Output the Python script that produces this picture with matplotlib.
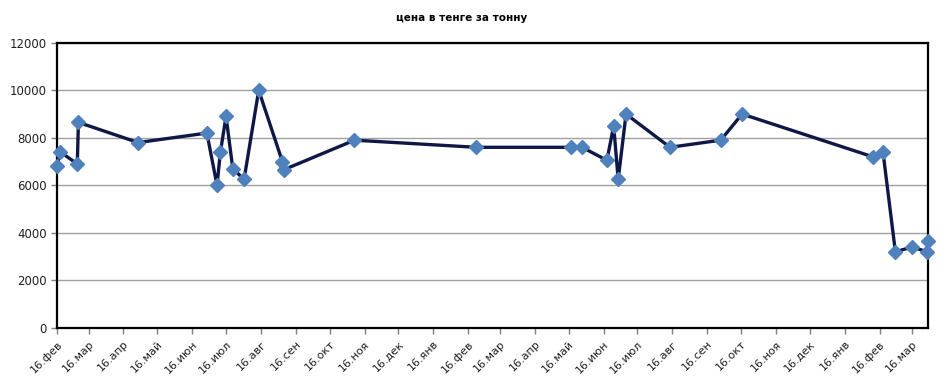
import datetime as dt

import matplotlib
matplotlib.use("Agg")
import matplotlib.pyplot as plt
import matplotlib.dates as mdates

# price observations (date, tenge per tonne)
dates = [
    "2010-02-16", "2010-02-19", "2010-03-06", "2010-03-07", "2010-04-29",
    "2010-06-29", "2010-07-08", "2010-07-11", "2010-07-16", "2010-07-22",
    "2010-08-01", "2010-08-14", "2010-09-04", "2010-09-05", "2010-11-07",
    "2011-02-23", "2011-05-18", "2011-05-28", "2011-06-19", "2011-06-25",
    "2011-06-29", "2011-07-06", "2011-08-14", "2011-09-28", "2011-10-17",
    "2012-02-10", "2012-02-19", "2012-03-01", "2012-03-16", "2012-03-29",
    "2012-03-30",
]
prices = [
    6800, 7400, 6900, 8650, 7800,
    8200, 6000, 7400, 8900, 6700,
    6250, 10000, 7000, 6650, 7900,
    7600, 7600, 7600, 7050, 8500,
    6250, 9000, 7600, 7900, 9000,
    7200, 7400, 3200, 3400, 3200,
    3650,
]
month_names = ["янв", "фев", "мар", "апр", "май", "июн",
               "июл", "авг", "сен", "окт", "ноя", "дек"]
title = "цена в тенге за тонну"


def main():
    x = [dt.datetime.strptime(d, "%Y-%m-%d") for d in dates]

    fig = plt.figure(figsize=(9.47, 3.86), dpi=100)
    ax = fig.add_axes([0.0602, 0.151, 0.9198, 0.738])

    ax.plot(x, prices, color="#0f1747", linewidth=2.4, zorder=3)
    ax.plot(x, prices, linestyle="none", marker="D", markersize=7.5,
            markerfacecolor="#4f81bd", markeredgecolor="#4f81bd",
            zorder=4, clip_on=False)

    ax.set_xlim(x[0], x[-1])
    ax.set_ylim(0, 12000)
    ax.set_yticks(range(0, 12001, 2000))
    ax.yaxis.grid(True, color="#a0a0a0", linewidth=1)
    ax.set_axisbelow(True)

    ax.xaxis.set_major_locator(mdates.MonthLocator(bymonthday=16))
    ax.xaxis.set_major_formatter(
        plt.FuncFormatter(lambda v, pos: "16." + month_names[mdates.num2date(v).month - 1]))
    plt.setp(ax.get_xticklabels(), rotation=45, ha="right", rotation_mode="anchor")

    ax.tick_params(axis="both", length=4, width=1, color="#808080",
                   labelcolor="#202020")
    ax.tick_params(axis="x", labelsize=8, pad=4)
    ax.tick_params(axis="y", labelsize=8.5)
    for side in ax.spines.values():
        side.set_color("black")
        side.set_linewidth(1.6)

    fig.text(0.487, 0.953, title, ha="center", va="center",
             fontsize=7.5, fontweight="bold")

    fig.savefig("out.png", dpi=100)
    plt.close(fig)


if __name__ == "__main__":
    main()
